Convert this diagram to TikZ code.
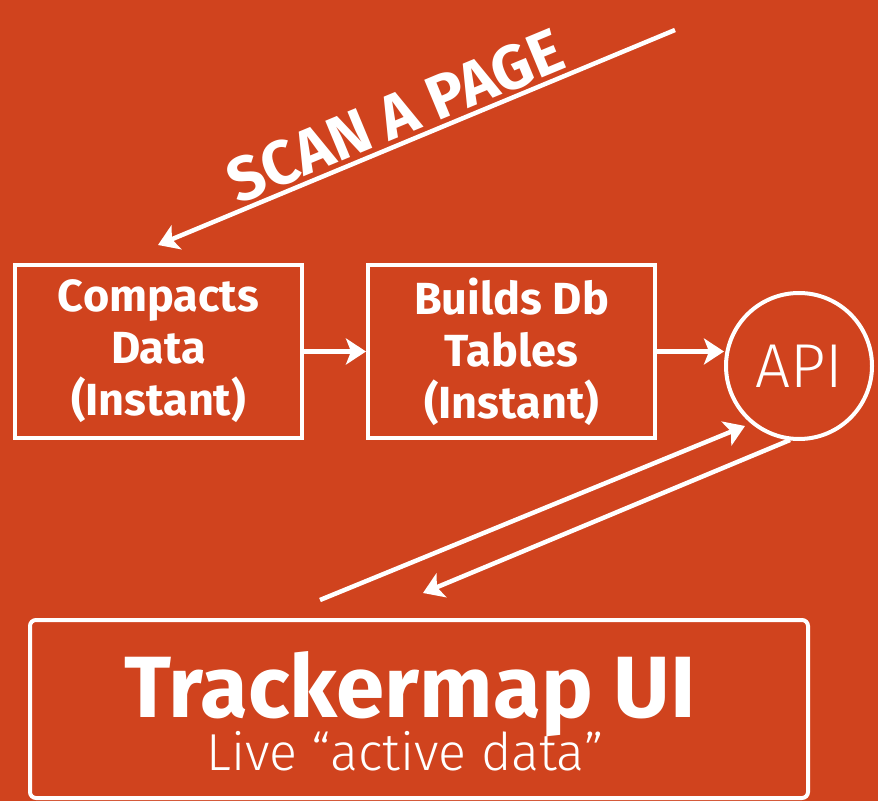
\documentclass[tikz,border=0pt]{standalone}
\usepackage{fontspec}
\setmainfont{Fira Sans}
\newfontfamily\thinfont{Fira Sans Light}
\usetikzlibrary{arrows.meta}
\definecolor{scanred}{RGB}{208,67,30}

\tikzset{
  flow/.style={white, line width=4.5pt, -{Stealth[length=20pt,width=26pt,inset=5pt]}},
  stagebox/.style={draw=white, line width=4pt, minimum width=287pt, minimum height=173pt,
    align=center, text=white, font=\fontsize{45}{52}\selectfont\bfseries},
}

\begin{document}
\begin{tikzpicture}[x=1pt,y=1pt]
  \fill[scanred] (0,0) rectangle (878,801);
  \useasboundingbox (0,0) rectangle (878,801);

  % pipeline
  \node[stagebox] (compact) at (158.5,449.5) {Compacts\\Data\\(Instant)};
  \node[stagebox] (builds) at (511.5,449.5) {Builds Db\\Tables\\(Instant)};
  \node[draw=white, line width=4pt, circle, minimum size=146pt, inner sep=0pt, text=white,
    font=\thinfont\fontsize{62}{62}\selectfont] (api) at (799,435) {API};
  \draw[flow] (compact) -- (builds);
  \draw[flow] (builds.east) -- (builds.east -| api.west);

  % scan
  \coordinate (scantop) at (675,771);
  \coordinate (scanfoot) at (158,556);
  \draw[flow, {Stealth[length=20pt,width=26pt,inset=5pt]}-] (scanfoot) -- node[sloped, above=0pt, pos=.48,
    text=white, font=\fontsize{62}{62}\selectfont\bfseries] (scanlabel) {SCAN A PAGE} (scantop);

  % ui
  \node[draw=white, line width=4pt, rounded corners=6pt, minimum width=778pt, minimum height=178pt] (ui) at (419,92) {};
  \node[anchor=base, text=white, font=\fontsize{87}{87}\selectfont\bfseries] (uititle) at (410,84) {Trackermap UI};
  \node[anchor=base, text=white, font=\thinfont\fontsize{52}{52}\selectfont] (uisub) at (405,31) {Live “active data”};

  \coordinate (upfoot) at (320,201);
  \coordinate (uptip) at (745,375);
  \coordinate (downtop) at (790,361);
  \coordinate (downtip) at (423,208);
  \draw[flow] (upfoot) -- (uptip);
  \draw[flow] (downtop) -- (downtip);
\end{tikzpicture}
\end{document}
